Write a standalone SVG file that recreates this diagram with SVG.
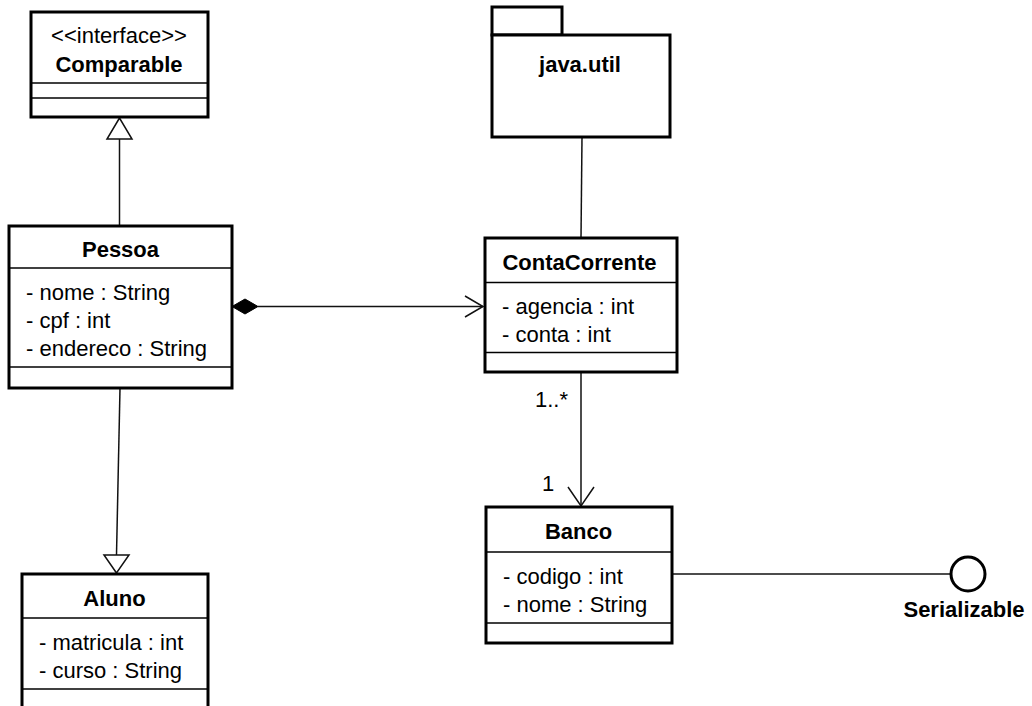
<svg xmlns="http://www.w3.org/2000/svg" width="1032" height="706" viewBox="0 0 1032 706">
<style>
.box{fill:#fff;stroke:#000;stroke-width:3}
.div{stroke:#000;stroke-width:1.5}
.t{font-family:"Liberation Sans",Arial,sans-serif;font-size:22px;fill:#000}
.b{font-weight:bold;text-anchor:middle}
.c{fill:none;stroke:#111;stroke-width:1.5}
</style>
<rect width="1032" height="706" fill="#fff"/>
<g id="connectors">
<line class="c" x1="119.5" y1="139" x2="119.5" y2="226"/>
<polygon points="119.5,118 107,139 132,139" fill="#fff" stroke="#111" stroke-width="1.5"/>
<line class="c" x1="120" y1="388" x2="116.5" y2="555"/>
<polygon points="116.5,573 104,555 129,555" fill="#fff" stroke="#111" stroke-width="1.5"/>
<line class="c" x1="258" y1="306.5" x2="483" y2="306.5"/>
<polygon points="232,306.5 245,299 258,306.5 245,314" fill="#000" stroke="#000" stroke-width="1"/>
<polyline class="c" points="465,296 483,306.5 465,317"/>
<line class="c" x1="582" y1="137" x2="581" y2="238"/>
<line class="c" x1="581" y1="372" x2="581" y2="506"/>
<polyline class="c" points="568,487 581,506 594,487"/>
<text class="t" x="535" y="406.5">1..*</text>
<text class="t" x="542" y="491">1</text>
<line class="c" x1="672" y1="574" x2="950" y2="574"/>
</g>
<g id="Comparable">
<rect class="box" x="31" y="12" width="177" height="105"/>
<line class="div" x1="31" y1="83" x2="208" y2="83"/>
<line class="div" x1="31" y1="98" x2="208" y2="98"/>
<text class="t" x="119" y="43" text-anchor="middle">&lt;&lt;interface&gt;&gt;</text>
<text class="t b" x="119" y="71.5">Comparable</text>
</g>
<g id="Pessoa">
<rect class="box" x="9" y="226" width="223" height="162"/>
<line class="div" x1="9" y1="268" x2="232" y2="268"/>
<line class="div" x1="9" y1="367" x2="232" y2="367"/>
<text class="t b" x="120.5" y="256.5">Pessoa</text>
<text class="t" x="26" y="300">- nome : String</text>
<text class="t" x="26" y="328">- cpf : int</text>
<text class="t" x="26" y="356">- endereco : String</text>
</g>
<g id="Aluno">
<rect class="box" x="22" y="574" width="186" height="150"/>
<line class="div" x1="22" y1="618" x2="208" y2="618"/>
<line class="div" x1="22" y1="689" x2="208" y2="689"/>
<text class="t b" x="114.5" y="606">Aluno</text>
<text class="t" x="39" y="650">- matricula : int</text>
<text class="t" x="39" y="678">- curso : String</text>
</g>
<g id="java_util">
<rect class="box" x="492" y="7" width="70" height="28"/>
<rect class="box" x="492" y="35" width="178" height="102"/>
<text class="t b" x="580" y="71.5">java.util</text>
</g>
<g id="ContaCorrente">
<rect class="box" x="485" y="238" width="192" height="134"/>
<line class="div" x1="485" y1="282.5" x2="677" y2="282.5"/>
<line class="div" x1="485" y1="352.5" x2="677" y2="352.5"/>
<text class="t b" x="579.5" y="270">ContaCorrente</text>
<text class="t" x="502" y="313.5">- agencia : int</text>
<text class="t" x="502" y="341.5">- conta : int</text>
</g>
<g id="Banco">
<rect class="box" x="486" y="507" width="186" height="136"/>
<line class="div" x1="486" y1="552" x2="672" y2="552"/>
<line class="div" x1="486" y1="623" x2="672" y2="623"/>
<text class="t b" x="578.5" y="538.5">Banco</text>
<text class="t" x="503" y="584">- codigo : int</text>
<text class="t" x="503" y="612">- nome : String</text>
</g>
<g id="Serializable">
<circle cx="968" cy="574" r="17" fill="#fff" stroke="#000" stroke-width="3"/>
<text class="t b" x="964" y="617">Serializable</text>
</g>
</svg>
